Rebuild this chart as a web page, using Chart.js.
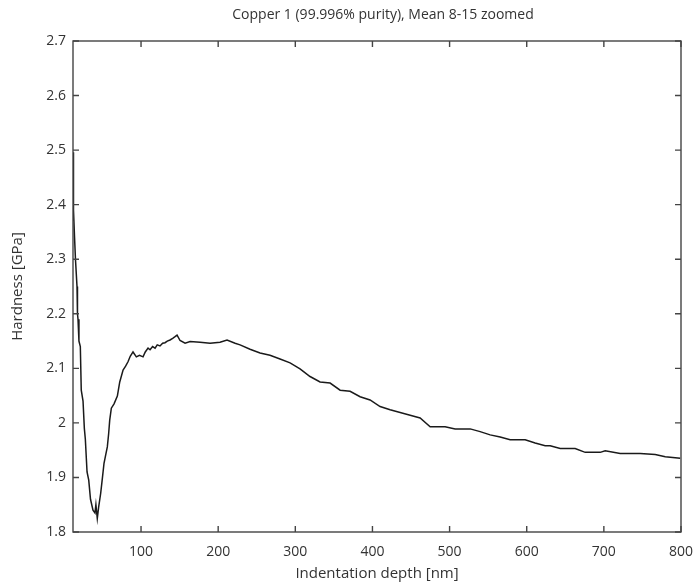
<!DOCTYPE html>
<html>
<head>
  <title>Copper 1 hardness</title>
  <style>
    body { margin: 0; background: #fff; }
    #wrap { width: 695px; height: 585px; }
  </style>
</head>
<body>
  <div id="wrap"><canvas id="graph" width="695" height="585"></canvas></div>

  <script src="https://cdn.jsdelivr.net/npm/chart.js"></script>
  <script>
    // indentation depth [nm]
    const depth = [
      11.8, 12.0, 12.2, 12.5, 13.0, 13.8, 15.0, 17.0, 17.6, 18.3, 19.5, 21.3, 22.5, 24.8, 26.5,
      27.8, 30.0, 32.2, 34.5, 37.7, 40.3, 41.5, 43.3, 45.0, 47.7, 50.0, 52.0, 54.0, 56.3, 58.0,
      59.4, 61.5, 65.0, 69.3, 72.4, 76.7, 80.0, 83.1, 86.0, 89.6, 93.9, 98.0, 102.6, 105.5,
      109.1, 111.7, 115.0, 118.2, 121.0, 124.6, 128.0, 131.1, 134.0, 137.6, 141.0, 144.1,
      146.7, 150.6, 157.1, 163.6, 176.5, 189.5, 202.4, 211.5, 221.9, 228.4, 241.3, 254.3,
      267.2, 280.2, 293.2, 306.1, 319.1, 332.1, 345.1, 358.1, 371.0, 384.0, 396.9, 409.9,
      422.9, 448.9, 461.8, 474.8, 494.2, 507.2, 526.7, 539.6, 552.6, 565.6, 578.5, 598.0,
      610.9, 623.9, 630.4, 643.4, 662.8, 675.8, 695.3, 701.7, 721.2, 747.1, 766.6, 779.6, 799.0
    ];
    // hardness [GPa]
    const hardness = [
      2.496, 2.42, 2.45, 2.37, 2.39, 2.34, 2.30, 2.25, 2.20, 2.19, 2.15, 2.14, 2.06, 2.04, 1.99,
      1.97, 1.91, 1.895, 1.86, 1.84, 1.835, 1.85, 1.825, 1.845, 1.871, 1.90, 1.926, 1.94, 1.956, 1.98,
      2.005, 2.027, 2.035, 2.049, 2.075, 2.097, 2.104, 2.112, 2.122, 2.130, 2.121, 2.124, 2.121, 2.130,
      2.137, 2.134, 2.140, 2.137, 2.143, 2.141, 2.146, 2.147, 2.150, 2.152, 2.155, 2.158,
      2.161, 2.151, 2.146, 2.149, 2.148, 2.146, 2.148, 2.152, 2.146, 2.143, 2.135, 2.128,
      2.124, 2.117, 2.110, 2.099, 2.085, 2.075, 2.073, 2.060, 2.058, 2.048, 2.042, 2.030,
      2.024, 2.014, 2.009, 1.993, 1.993, 1.989, 1.989, 1.984, 1.978, 1.974, 1.969, 1.969,
      1.963, 1.958, 1.958, 1.953, 1.953, 1.946, 1.946, 1.949, 1.944, 1.944, 1.942, 1.938, 1.935
    ];
    const xTicks = [100, 200, 300, 400, 500, 600, 700, 800];
    const yTicks = [1.8, 1.9, 2.0, 2.1, 2.2, 2.3, 2.4, 2.5, 2.6, 2.7];

    const ink = '#333';
    const font = 'Open Sans';

    // MATLAB style box with inward ticks on all four sides
    const boxTicks = {
      id: 'boxTicks',
      afterDraw(chart) {
        const { ctx, chartArea: a, scales: { x, y } } = chart;
        ctx.save();
        ctx.strokeStyle = '#444';
        ctx.lineWidth = 1.4;
        ctx.strokeRect(a.left, a.top, a.right - a.left, a.bottom - a.top);
        ctx.beginPath();
        xTicks.forEach(v => {
          const px = x.getPixelForValue(v);
          ctx.moveTo(px, a.bottom); ctx.lineTo(px, a.bottom - 6);
          ctx.moveTo(px, a.top); ctx.lineTo(px, a.top + 6);
        });
        yTicks.forEach(v => {
          const py = y.getPixelForValue(v);
          ctx.moveTo(a.left, py); ctx.lineTo(a.left + 6, py);
          ctx.moveTo(a.right, py); ctx.lineTo(a.right - 6, py);
        });
        ctx.stroke();
        ctx.fillStyle = ink;
        ctx.font = '14px "' + font + '"';
        ctx.textAlign = 'center';
        ctx.textBaseline = 'middle';
        ctx.fillText('Copper 1 (99.996% purity), Mean 8-15 zoomed', (a.left + a.right) / 2 + 6, 15);
        ctx.restore();
      }
    };

    new Chart(document.getElementById('graph'), {
      type: 'line',
      data: {
        datasets: [{
          data: depth.map((d, i) => ({ x: d, y: hardness[i] })),
          borderColor: '#1a1a1a',
          borderWidth: 1.5,
          pointRadius: 0,
          tension: 0,
          fill: false
        }]
      },
      options: {
        responsive: false,
        animation: false,
        layout: { padding: { top: 41, right: 14, left: 0, bottom: 0 } },
        plugins: { legend: { display: false }, tooltip: { enabled: false } },
        scales: {
          x: {
            type: 'linear',
            min: 11.8,
            max: 800,
            afterBuildTicks: s => { s.ticks = xTicks.map(v => ({ value: v })); },
            afterFit: s => { s.height = 53; s.paddingLeft = 0; s.paddingRight = 0; },
            grid: { display: false, drawTicks: false },
            border: { display: false },
            ticks: { color: ink, font: { family: font, size: 14 }, padding: 12, maxRotation: 0 },
            title: { display: true, text: 'Indentation depth [nm]', color: ink, font: { family: font, size: 15 }, padding: { top: 0, bottom: 2 } }
          },
          y: {
            min: 1.8,
            max: 2.7,
            afterBuildTicks: s => { s.ticks = yTicks.map(v => ({ value: v })); },
            afterFit: s => { s.width = 73; },
            grid: { display: false, drawTicks: false },
            border: { display: false },
            ticks: {
              color: ink, font: { family: font, size: 14 }, padding: 7,
              callback: v => String(Number(v.toFixed(1)))
            },
            title: { display: true, text: 'Hardness [GPa]', color: ink, font: { family: font, size: 15 }, padding: { top: 9, bottom: 0 } }
          }
        }
      },
      plugins: [boxTicks]
    });
  </script>
</body>
</html>
